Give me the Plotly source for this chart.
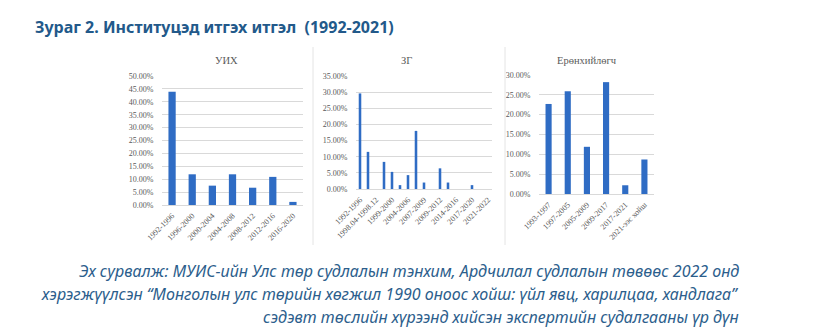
import plotly.graph_objects as go

# --- data -------------------------------------------------------------------
uikh_periods = ["1992-1996", "1996-2000", "2000-2004", "2004-2008",
                "2008-2012", "2012-2016", "2016-2020"]
uikh_trust = [0.439, 0.119, 0.075, 0.119, 0.067, 0.109, 0.012]

zg_periods = ["1992-1996", "1996-1998", "1998.04-1998.12", "1998-1999",
              "1999-2000", "2000-2004", "2004-2006", "2006-2007",
              "2007-2009", "2008-2009", "2009-2012", "2012-2014",
              "2014-2016", "2016-2017", "2017-2020", "2020-2021",
              "2021-2022"]
zg_trust = [0.296, 0.115, 0.0, 0.084, 0.053, 0.012, 0.043, 0.180,
            0.020, 0.0, 0.064, 0.020, 0.0, 0.0, 0.012, 0.0, 0.0]
zg_labelled = ["1992-1996", "1998.04-1998.12", "1999-2000", "2004-2006",
               "2007-2009", "2009-2012", "2014-2016", "2017-2020",
               "2021-2022"]

pres_periods = ["1993-1997", "1997-2005", "2005-2009", "2009-2017",
                "2017-2021", "2021-ээс хойш"]
pres_trust = [0.227, 0.259, 0.119, 0.282, 0.022, 0.087]

panel_titles = ["УИХ", "ЗГ", "Ерөнхийлөгч"]

title_text = "Зураг 2. Институцэд итгэх итгэл\u00a0\u00a0(1992-2021)"
source_lines = [
    "Эх сурвалж: МУИС-ийн Улс төр судлалын тэнхим, Ардчилал судлалын төвөөс 2022 онд",
    "хэрэгжүүлсэн “Монголын улс төрийн хөгжил 1990 оноос хойш: үйл явц, харилцаа, хандлага”",
    "сэдэвт төслийн хүрээнд хийсэн экспертийн судалгааны үр дүн",
]

# --- styling ----------------------------------------------------------------
W, H = 825, 331
BAR = "#2F6CC4"
GRID = "#D9D9D9"
TICK = "#595959"
SERIF = "Liberation Serif, Times New Roman, serif"
BLUE_TEXT = "#22598A"


def px_x(x):
    return x / W


def px_y(y):
    return 1 - y / H


fig = go.Figure()

panels = [
    # (axis id, periods, values, bar width, x px span, y px (top,bottom), ymax, title x)
    ("", uikh_periods, uikh_trust, 0.36, (162, 303), (76, 205), 0.50, 226),
    ("2", zg_periods, zg_trust, 0.32, (356, 492), (76, 189), 0.35, 406),
    ("3", pres_periods, pres_trust, 0.32, (539, 654), (75, 194), 0.30, 587),
]

for i, (ax, cats, vals, bw, (x0, x1), (yt, yb), ymax, tx) in enumerate(panels):
    fig.add_trace(go.Bar(
        x=cats, y=vals, width=bw, marker_color=BAR, marker_line_width=0,
        xaxis="x" + ax, yaxis="y" + ax, showlegend=False,
        hovertemplate="%{x}: %{y:.2%}<extra></extra>",
    ))
    xa = dict(
        domain=[px_x(x0), px_x(x1)], anchor="y" + ax, automargin=False,
        type="category", categoryorder="array", categoryarray=cats,
        tickangle=-45, tickfont=dict(family=SERIF, size=8, color=TICK),
        showgrid=False, showline=False,
        ticks="outside", ticklen=2, tickcolor="rgba(0,0,0,0)",
        zeroline=False, fixedrange=True,
    )
    if ax == "2":
        xa.update(tickmode="array", tickvals=zg_labelled, ticktext=zg_labelled)
    ya = dict(
        domain=[px_y(yb), px_y(yt)], anchor="x" + ax, automargin=False,
        range=[0, ymax], dtick=0.05, tickformat=".2%",
        tickfont=dict(family=SERIF, size=8, color=TICK),
        ticks="outside", ticklen=6, tickcolor="rgba(0,0,0,0)",
        showgrid=True, gridcolor=GRID, gridwidth=1,
        zeroline=True, zerolinecolor=GRID, zerolinewidth=1,
        showline=False, fixedrange=True,
    )
    fig.update_layout(**{"xaxis" + ax: xa, "yaxis" + ax: ya})
    fig.add_annotation(
        x=px_x(tx), y=px_y(60), xref="paper", yref="paper",
        text=panel_titles[i], showarrow=False,
        font=dict(family=SERIF, size=10.5, color=TICK),
        xanchor="center", yanchor="middle",
    )

# thin frames separating the three chart panels
for xv in (313, 505):
    fig.add_shape(type="line", xref="paper", yref="paper",
                  x0=px_x(xv), x1=px_x(xv), y0=px_y(47), y1=px_y(245),
                  line=dict(color="#E4E4E4", width=1))

# heading
fig.add_annotation(
    x=px_x(33), y=px_y(27), xref="paper", yref="paper",
    text="<b>" + title_text + "</b>", showarrow=False,
    font=dict(family="Noto Sans", size=16, color=BLUE_TEXT),
    xanchor="left", yanchor="middle",
)

# source note, right-aligned
for k, line in enumerate(source_lines):
    fig.add_annotation(
        x=px_x(741), y=px_y(271 + 23 * k), xref="paper", yref="paper",
        text="<i>" + line + "</i>", showarrow=False,
        font=dict(family="Noto Sans", size=16, color="#2C5E8C"),
        xanchor="right", yanchor="middle",
    )

fig.update_layout(
    width=W, height=H,
    margin=dict(l=0, r=0, t=0, b=0, autoexpand=False),
    paper_bgcolor="white", plot_bgcolor="white",
    bargap=0.6,
)

fig.write_html("out.html", config={"displayModeBar": False})
